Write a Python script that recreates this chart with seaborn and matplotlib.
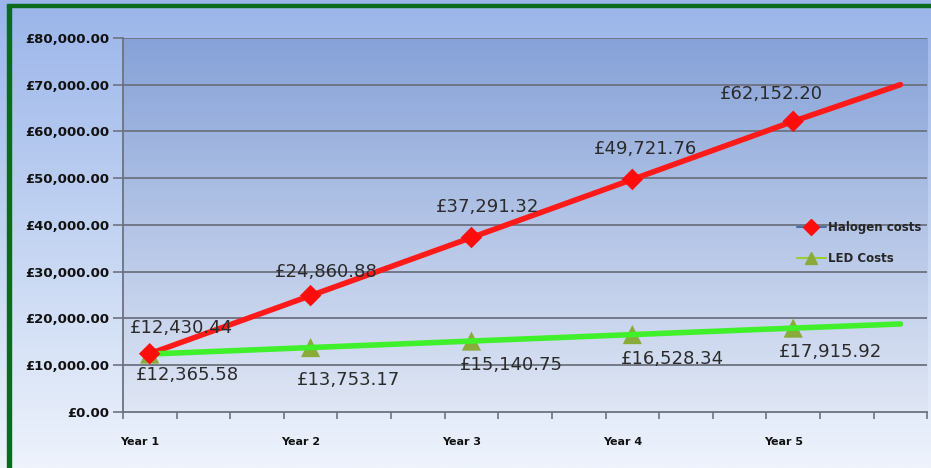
import numpy as np
import pandas as pd
import seaborn as sns
import matplotlib.pyplot as plt
from matplotlib.lines import Line2D
from matplotlib.patches import Rectangle
from matplotlib.colors import LinearSegmentedColormap

# category positions on the x axis (15 slots, a year every 3rd slot)
year_pos = [0, 3, 6, 9, 12]
year_labels = ['Year 1', 'Year 2', 'Year 3', 'Year 4', 'Year 5']
halogen = [12430.44, 24860.88, 37291.32, 49721.76, 62152.20]
led = [12365.58, 13753.17, 15140.75, 16528.34, 17915.92]
# where the lines run out at the right edge
end_pos = 14
halogen_end = 70000
led_end = 18800

sns.set_theme(style="white")
plt.rcParams['font.family'] = ['DejaVu Sans']

fig = plt.figure(figsize=(9.31, 4.68), dpi=100)

# figure background gradient
bg = fig.add_axes([0, 0, 1, 1], zorder=-10)
grad = np.linspace(0, 1, 256).reshape(-1, 1)
fig_cmap = LinearSegmentedColormap.from_list('figbg', ['#9bb5ea', '#c3d4f2', '#eef3fc'])
bg.imshow(grad, aspect='auto', cmap=fig_cmap, extent=[0, 1, 0, 1])
bg.set_axis_off()
# green frame on left and top
bg.add_patch(Rectangle((0.0075, 0), 0.004, 0.99, color='#0b6b1c', transform=bg.transAxes))
bg.add_patch(Rectangle((0.0075, 0.984), 0.9925, 0.007, color='#0b6b1c', transform=bg.transAxes))

ax = fig.add_axes([0.132, 0.12, 0.864, 0.799])
ax.set_xlim(-0.5, 14.5)
ax.set_ylim(0, 80000)
plot_cmap = LinearSegmentedColormap.from_list('plotbg', ['#86a2d8', '#b3c4e6', '#dfe6f4'])
ax.imshow(grad, aspect='auto', cmap=plot_cmap, extent=[-0.5, 14.5, 0, 80000], zorder=0)

for v in range(10000, 80001, 10000):
    ax.axhline(v, color='#6d7280', lw=1.3, zorder=1)

hal_df = pd.DataFrame({'x': year_pos + [end_pos], 'y': halogen + [halogen_end]})
led_df = pd.DataFrame({'x': year_pos + [end_pos], 'y': led + [led_end]})

sns.scatterplot(x=year_pos, y=led, ax=ax, marker='^', s=190, color='#8aaa3a',
                edgecolor='none', zorder=2)
sns.lineplot(data=hal_df, x='x', y='y', ax=ax, color='#ff1a1a', lw=4, zorder=3)
sns.lineplot(data=led_df, x='x', y='y', ax=ax, color='#3ff02a', lw=4, zorder=3)
sns.scatterplot(x=year_pos, y=halogen, ax=ax, marker='D', s=120, color='#ff0d0d',
                edgecolor='none', zorder=4)

# data labels
hal_off = [(0.6, 5500), (0.3, 5000), (0.3, 6500), (0.25, 6500), (-0.4, 5800)]
led_off = [(0.7, -4500), (0.7, -7000), (0.75, -5200), (0.75, -5200), (0.7, -5200)]
for x, y, (dx, dy) in zip(year_pos, halogen, hal_off):
    ax.text(x + dx, y + dy, f'£{y:,.2f}', ha='center', va='center', fontsize=13,
            color='#2b2b2b', zorder=5)
for x, y, (dx, dy) in zip(year_pos, led, led_off):
    ax.text(x + dx, y + dy, f'£{y:,.2f}', ha='center', va='center', fontsize=13,
            color='#2b2b2b', zorder=5)

# axes styling
for s in ['top', 'right']:
    ax.spines[s].set_visible(False)
for s in ['left', 'bottom']:
    ax.spines[s].set_color('#6d7280')
    ax.spines[s].set_linewidth(1.3)
ax.set_yticks(range(0, 80001, 10000))
ax.set_yticklabels([f'£{v:,.2f}' for v in range(0, 80001, 10000)],
                   fontsize=9.5, fontweight='bold', color='#111111')
ax.tick_params(axis='y', length=7, width=1.2, color='#6d7280', pad=3, left=True)
ax.set_xticks(np.arange(-0.5, 15, 1))
ax.set_xticklabels([])
ax.tick_params(axis='x', which='major', length=5, width=1.2, color='#6d7280', bottom=True)
# year labels sit a little left of the slot centres, as in the original
ax.set_xticks([p - 0.18 for p in year_pos], minor=True)
ax.set_xticklabels(year_labels, minor=True, fontsize=8, fontweight='bold', color='#111111')
ax.tick_params(axis='x', which='minor', length=0, pad=18)
ax.set_xlabel('')
ax.set_ylabel('')

handles = [
    Line2D([0], [0], color='#4a6fa5', lw=1.5, marker='D', markersize=8,
           markerfacecolor='#ff0d0d', markeredgecolor='#ff0d0d'),
    Line2D([0], [0], color='#9acd32', lw=1.5, marker='^', markersize=8,
           markerfacecolor='#8aaa3a', markeredgecolor='#8aaa3a'),
]
fig.legend(handles, ['Halogen costs', 'LED Costs'], loc='upper left',
           bbox_to_anchor=(0.845, 0.55), frameon=False,
           handlelength=2.4, handletextpad=0.2, labelspacing=1.5,
           prop={'weight': 'bold', 'size': 8.5})

fig.savefig('out.png', dpi=100)
